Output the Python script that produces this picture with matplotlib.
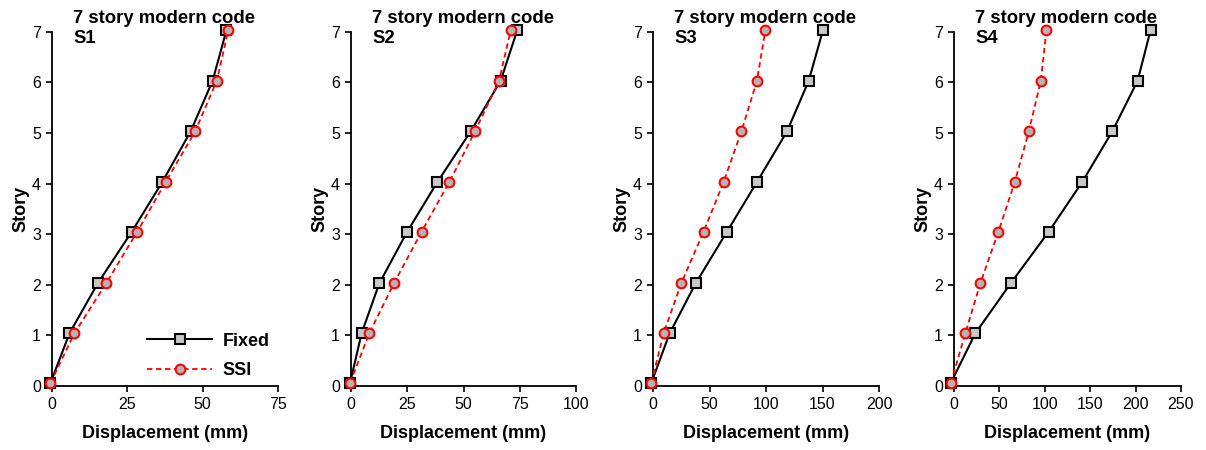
import matplotlib
matplotlib.use("Agg")
import matplotlib.pyplot as plt

plt.rcParams['font.family'] = ['Liberation Sans', 'DejaVu Sans']

# Story levels (as plotted, slight offset as in the original)
story = [0.06, 1.04, 2.03, 3.05, 4.03, 5.03, 6.03, 7.03]

# Displacement (mm) per soil type
s1_fixed = [-0.5, 5.8, 15.2, 26.5, 36.6, 46.0, 53.3, 57.9]
s1_ssi = [-0.5, 7.4, 18.0, 28.3, 37.7, 47.5, 54.7, 58.5]

s2_fixed = [-0.4, 4.7, 12.6, 25.0, 38.4, 53.2, 66.5, 73.9]
s2_ssi = [-0.4, 8.1, 19.1, 31.4, 43.7, 55.1, 65.8, 71.0]

s3_fixed = [-1.5, 14.7, 37.8, 65.5, 92.0, 118.6, 137.8, 150.4]
s3_ssi = [-1.5, 9.4, 25.0, 44.8, 62.5, 78.2, 92.0, 99.4]

s4_fixed = [-3.5, 23.5, 62.5, 104.4, 141.2, 174.3, 202.2, 216.5]
s4_ssi = [-3.5, 12.5, 29.0, 48.9, 66.9, 82.4, 95.6, 101.8]

panels = ["S1", "S2", "S3", "S4"]
fixed_all = [s1_fixed, s2_fixed, s3_fixed, s4_fixed]
ssi_all = [s1_ssi, s2_ssi, s3_ssi, s4_ssi]
x_max = [75, 100, 200, 250]
x_step = [25, 25, 50, 50]

W, H = 1206, 450
fig = plt.figure(figsize=(W / 100, H / 100), dpi=100)

# axes boxes in pixels (left, right)
boxes = [(52, 278), (351, 576), (653, 879), (954, 1181)]
ax_top, ax_bot = 31.7, 386

for i, name in enumerate(panels):
    l, r = boxes[i]
    ax = fig.add_axes([l / W, (H - ax_bot) / H, (r - l) / W, (ax_bot - ax_top) / H])
    ax.plot(fixed_all[i], story, '-', color='black', lw=1.5,
            marker='s', ms=7, mfc='#c8c8c8', mec='black', mew=1.5,
            label='Fixed', clip_on=False, zorder=3)
    ax.plot(ssi_all[i], story, '--', color='#ff0000', lw=1.3, dashes=(3, 2),
            marker='o', ms=7, mfc='#b4b4b4', mec='#ff0000', mew=1.5,
            label='SSI', clip_on=False, zorder=4)
    ax.set_xlim(0, x_max[i])
    ax.set_ylim(0, 7)
    ax.set_xticks(range(0, x_max[i] + 1, x_step[i]))
    ax.set_yticks(range(0, 8))
    for side in ['top', 'right']:
        ax.spines[side].set_visible(False)
    for side in ['left', 'bottom']:
        ax.spines[side].set_linewidth(1.3)
    ax.tick_params(direction='out', length=4, width=1.2, labelsize=11.5, pad=4)
    ax.set_xlabel('Displacement (mm)', fontsize=13, fontweight='bold', labelpad=9)
    ax.set_ylabel('Story', fontsize=13, fontweight='bold', labelpad=2)

    # titles
    tx = (l + 21) / W
    fig.text(tx, 1 - 23 / H, '7 story modern code', fontsize=13.3,
             fontweight='bold', va='baseline', ha='left')
    fig.text(tx, 1 - 43 / H, name, fontsize=13.3,
             fontweight='bold', va='baseline', ha='left')

    if i == 0:
        ax.legend(loc='center left', frameon=False,
                  prop={'size': 13, 'weight': 'bold'},
                  handlelength=3.6, handletextpad=0.6, borderpad=0,
                  borderaxespad=0, labelspacing=0.7,
                  bbox_to_anchor=((147 - l) / (r - l), (ax_bot - 356) / (ax_bot - ax_top)))

fig.savefig('out.png', dpi=100)
